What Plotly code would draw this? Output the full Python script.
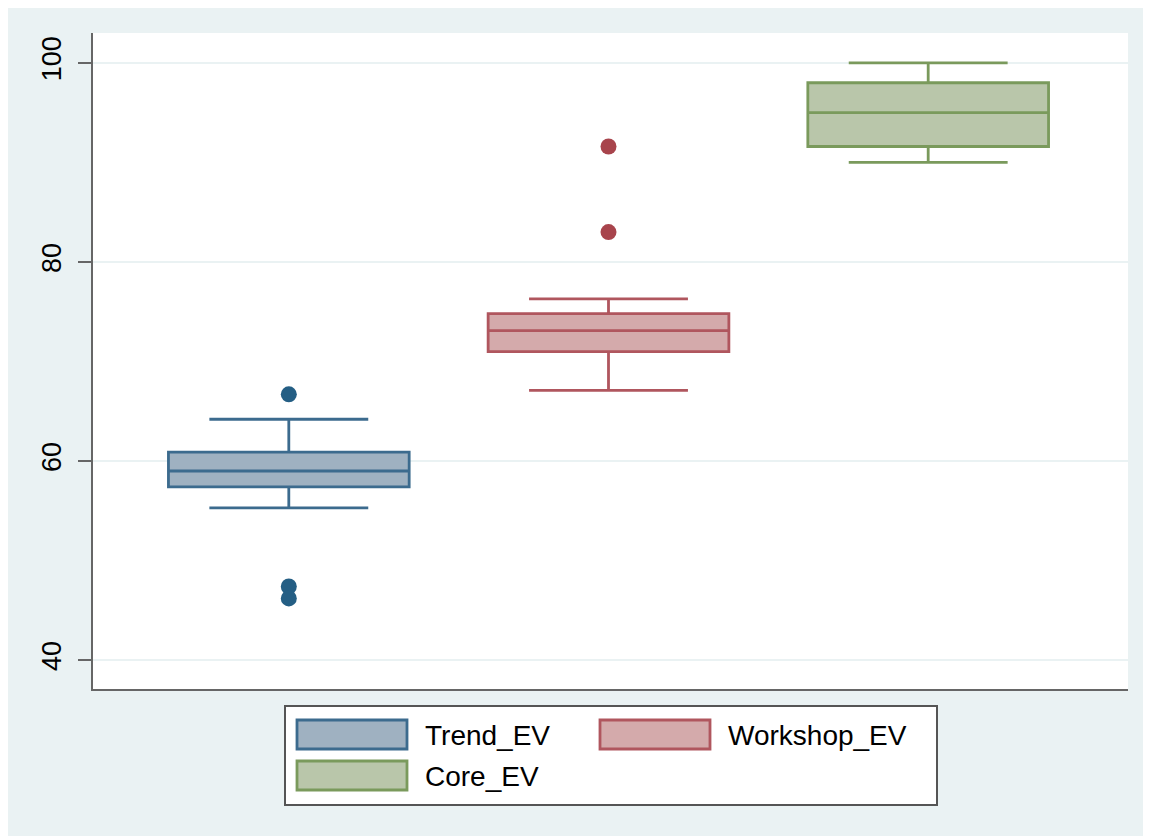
import plotly.graph_objects as go

# values (Stata-style box plot)
groups = ["Trend_EV", "Workshop_EV", "Core_EV"]
positions = [0, 1, 2]
q1 = [57.4, 71.0, 91.6]
medians = [59.0, 73.1, 95.0]
q3 = [60.9, 74.8, 98.0]
lower_fence = [55.3, 67.1, 90.0]
upper_fence = [64.2, 76.3, 100.0]
outliers = [[66.7, 47.4, 46.2], [91.6, 83.0], []]
y_ticks = [40, 60, 80, 100]

line_colors = ["#3c6b8e", "#b0565e", "#7a9a5c"]
fill_colors = ["#9fb1c1", "#d4aaab", "#b9c6aa"]
dot_colors = ["#245e84", "#a8444c"]

# the page body has an 8px margin, so the figure sits at (8, 8) in the window
OFF = 8
W, H = 1151 - OFF, 836 - OFF
PLOT_L, PLOT_R, PLOT_T, PLOT_B = 93, 1128, 33, 689   # window pixels
ML, MR, MT, MB = PLOT_L - OFF, 1151 - PLOT_R, PLOT_T - OFF, 836 - PLOT_B
PW, PH = PLOT_R - PLOT_L, PLOT_B - PLOT_T


def px(x):
    return (x - PLOT_L) / PW


def py(y):
    return (PLOT_B - y) / PH


fig = go.Figure()
for i, name in enumerate(groups):
    fig.add_trace(go.Box(x=[positions[i]], q1=[q1[i]], median=[medians[i]], q3=[q3[i]],
                         lowerfence=[lower_fence[i]], upperfence=[upper_fence[i]],
                         name=name, width=0.753, whiskerwidth=0.66, boxpoints=False,
                         line=dict(color=line_colors[i], width=2.8), fillcolor=fill_colors[i],
                         showlegend=False, hoverinfo="skip"))
    if outliers[i]:
        fig.add_trace(go.Scatter(x=[positions[i]] * len(outliers[i]), y=outliers[i], mode="markers",
                                 marker=dict(color=dot_colors[i], size=16), showlegend=False))

# legend drawn like Stata's: wide swatches inside a framed box
shapes = [
    dict(type="rect", xref="paper", yref="paper", x0=px(285), x1=px(937), y0=py(805), y1=py(706),
         fillcolor="white", line=dict(color="#555555", width=2)),
]
annotations = []
swatch_pos = [(297, 720), (600, 720), (297, 761)]
for i, name in enumerate(groups):
    sx, sy = swatch_pos[i]
    shapes.append(dict(type="rect", xref="paper", yref="paper", x0=px(sx), x1=px(sx + 110),
                       y0=py(sy + 29), y1=py(sy), fillcolor=fill_colors[i],
                       line=dict(color=line_colors[i], width=2.8)))
    annotations.append(dict(xref="paper", yref="paper", x=px(sx + 126), y=py(sy + 15), text=name,
                            showarrow=False, xanchor="left", yanchor="middle",
                            font=dict(size=28, color="black")))

fig.update_layout(width=W, height=H, margin=dict(l=ML, r=MR, t=MT, b=MB),
                  paper_bgcolor="#eaf2f3", plot_bgcolor="white",
                  font=dict(family="Liberation Sans, Arial, sans-serif", color="black"),
                  shapes=shapes, annotations=annotations, showlegend=False)
fig.update_xaxes(range=[-0.6125, 2.625], showticklabels=False, showgrid=False, zeroline=False,
                 showline=True, linecolor="#666666", linewidth=2, ticks="")
fig.update_yaxes(range=[37.1, 103.0], tickvals=y_ticks, tickangle=-90, tickfont=dict(size=27),
                 showgrid=True, gridcolor="#eaf2f3", gridwidth=2, zeroline=False,
                 showline=True, linecolor="#666666", linewidth=2,
                 ticks="outside", ticklen=13, tickwidth=2, tickcolor="#666666", ticklabelstandoff=6)

fig.write_html("out.html")
